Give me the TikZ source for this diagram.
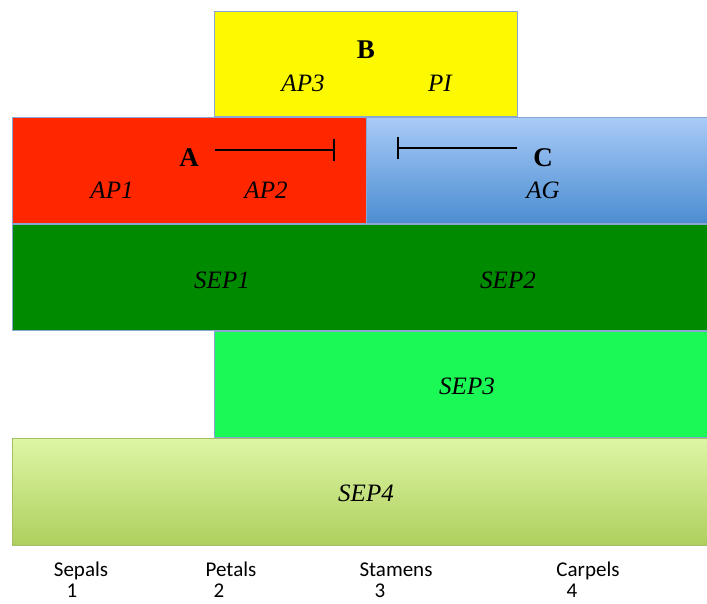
\documentclass[tikz,border=0pt]{standalone}
\usepackage{fontspec}
\setmainfont{Liberation Serif}
\newfontfamily\calib{Carlito}
\usetikzlibrary{arrows.meta}
\definecolor{bordc}{HTML}{8AA6D2}
\definecolor{yelB}{HTML}{FCF900}
\definecolor{redA}{HTML}{FF2600}
\definecolor{blueT}{HTML}{A9CBF8}
\definecolor{blueB}{HTML}{4B8DD1}
\definecolor{dgreen}{HTML}{008A00}
\definecolor{bgreen}{HTML}{1BF956}
\definecolor{lgT}{HTML}{DEF6A5}
\definecolor{lgB}{HTML}{AECF5E}
\tikzset{
  band/.style={draw=bordc, line width=0.8pt, anchor=north west, inner sep=0pt, outer sep=0pt},
  gene/.style={font=\fontsize{25}{28}\selectfont\itshape, inner sep=0pt},
  cls/.style={font=\fontsize{27}{30}\selectfont\bfseries, inner sep=0pt},
  organ/.style={font=\calib\fontsize{21}{24}\selectfont, inner sep=0pt, anchor=base},
  inhib/.style={line width=2pt, -{Bar[width=22pt, line width=2pt]}}
}
\begin{document}
\begin{tikzpicture}[x=1pt,y=-1pt]
\useasboundingbox (0,0) rectangle (707,603);
% boxes
\node[band, fill=yelB, minimum width=303pt, minimum height=105pt] (boxB) at (214,11) {};
\node[band, fill=redA, minimum width=354pt, minimum height=106pt] (boxA) at (12,117) {};
\node[band, top color=blueT, bottom color=blueB, minimum width=341pt, minimum height=106pt] (boxC) at (366,117) {};
\node[band, fill=dgreen, minimum width=695pt, minimum height=106pt] (boxS12) at (12,224) {};
\node[band, fill=bgreen, minimum width=493pt, minimum height=106pt] (boxS3) at (214,331) {};
\node[band, draw=lgB!80!gray, top color=lgT, bottom color=lgB, minimum width=695pt, minimum height=107pt] (boxS4) at (12,438) {};
% labels
\node[cls] (lB) at (366,50) {B};
\node[gene] (ap3) at (303,83) {AP3};
\node[gene] (pi) at (440,83) {PI};
\node[cls] (lA) at (189,158) {A};
\node[gene] (ap1) at (112,190) {AP1};
\node[gene] (ap2) at (266,190) {AP2};
\node[cls] (lC) at (543,158) {C};
\node[gene] (ag) at (543,190) {AG};
\node[gene] (sep1) at (222,280) {SEP1};
\node[gene] (sep2) at (508,280) {SEP2};
\node[gene] (sep3) at (467,386) {SEP3};
\node[gene] (sep4) at (366,493) {SEP4};
% inhibition bars
\coordinate (a1) at (215,150);
\coordinate (a2) at (335,150);
\coordinate (c1) at (517,148);
\coordinate (c2) at (397,148);
\draw[inhib] (a1) -- (a2);
\draw[inhib] (c1) -- (c2);
% organ labels
\node[organ] (o1) at (81,576) {Sepals};
\node[organ] (n1) at (72,597) {1};
\node[organ] (o2) at (231,576) {Petals};
\node[organ] (n2) at (219,597) {2};
\node[organ] (o3) at (396,576) {Stamens};
\node[organ] (n3) at (380,597) {3};
\node[organ] (o4) at (588,576) {Carpels};
\node[organ] (n4) at (572,597) {4};
\end{tikzpicture}
\end{document}
